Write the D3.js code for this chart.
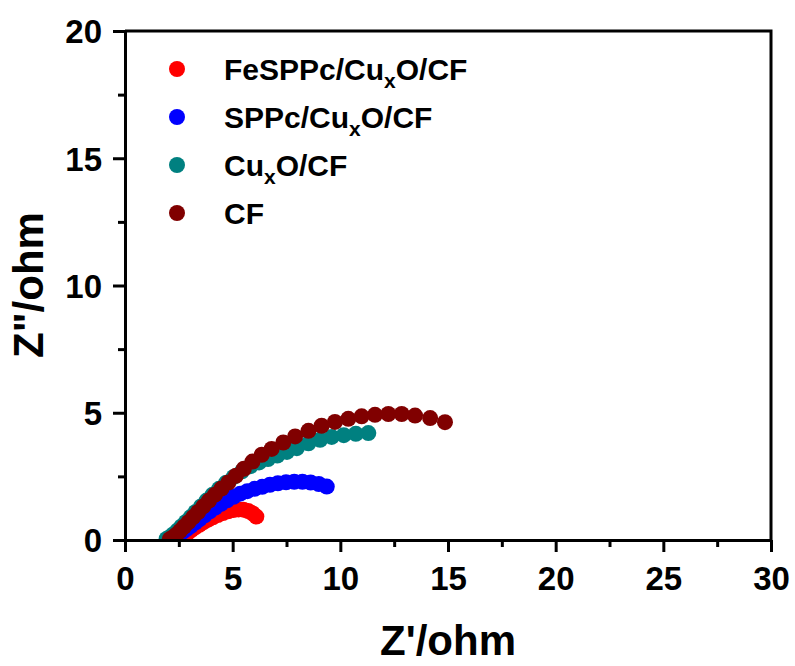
<!DOCTYPE html>
<html>
<head>
<meta charset="utf-8">
<script src="https://cdn.jsdelivr.net/npm/d3@7"></script>
<style>
  body { margin: 0; background: #fff; }
  svg { display: block; font-family: "Liberation Sans", Arial, sans-serif; font-weight: bold; }
</style>
</head>
<body>
<div id="chart"></div>
<script>
// series names (legend order) and colours
const seriesNames = ["FeSPPc/CuxO/CF", "SPPc/CuxO/CF", "CuxO/CF", "CF"];
const seriesColors = ["#ff0000", "#0000ff", "#008080", "#800000"];

// Nyquist data: [Z', Z'']
const fesppc = [
  [2.52,0.05],[2.64,0.11],[2.77,0.19],[2.92,0.29],[3.08,0.39],[3.26,0.5],[3.45,0.6],[3.65,0.7],
  [3.86,0.8],[4.08,0.89],[4.31,0.98],[4.55,1.06],[4.79,1.13],[5.03,1.18],[5.27,1.2],[5.5,1.19],
  [5.72,1.14],[5.92,1.05],[6.1,0.92]
];
const sppc = [
  [2.06,0.02],[2.2,0.06],[2.35,0.13],[2.51,0.22],[2.68,0.32],[2.86,0.43],[3.05,0.55],[3.26,0.68],
  [3.47,0.82],[3.7,0.97],[3.94,1.13],[4.19,1.27],[4.46,1.42],[4.74,1.56],[5.04,1.7],[5.35,1.82],
  [5.68,1.92],[6.02,2.01],[6.37,2.09],[6.73,2.17],[7.1,2.23],[7.48,2.27],[7.86,2.29],[8.24,2.29],
  [8.62,2.26],[9.0,2.2],[9.37,2.1]
];
const cuxo = [
  [1.93,0.04],[2.09,0.12],[2.25,0.23],[2.43,0.37],[2.62,0.53],[2.83,0.71],[3.05,0.9],[3.28,1.1],
  [3.53,1.32],[3.79,1.55],[4.07,1.78],[4.37,2.01],[4.7,2.25],[5.05,2.48],[5.43,2.7],[5.83,2.9],
  [6.23,3.05],[6.64,3.18],[7.07,3.32],[7.52,3.46],[7.98,3.61],[8.52,3.8],[9.06,3.94],[9.6,4.05],
  [10.16,4.12],[10.72,4.17],[11.3,4.2]
];
const cf = [
  [2.08,0.03],[2.22,0.1],[2.38,0.21],[2.55,0.35],[2.74,0.52],[2.95,0.7],[3.17,0.9],[3.4,1.1],
  [3.64,1.32],[3.9,1.55],[4.18,1.78],[4.48,2.02],[4.8,2.26],[5.15,2.52],[5.52,2.8],[5.92,3.08],
  [6.35,3.35],[6.81,3.58],[7.35,3.83],[7.9,4.07],[8.52,4.29],[9.13,4.49],[9.75,4.64],[10.37,4.76],
  [10.99,4.86],[11.61,4.92],[12.23,4.95],[12.85,4.95],[13.47,4.89],[14.17,4.79],[14.86,4.63]
];
const allSeries = [fesppc, sppc, cuxo, cf];

const xTicks = [0, 5, 10, 15, 20, 25, 30];
const yTicks = [0, 5, 10, 15, 20];

const width = 795, height = 666;
const margin = {left: 125, right: 24, top: 31, bottom: 126};

const svg = d3.select("#chart").append("svg")
  .attr("width", width)
  .attr("height", height);

const x = d3.scaleLinear().domain([0, 30]).range([margin.left, width - margin.right]);
const y = d3.scaleLinear().domain([0, 20]).range([height - margin.bottom, margin.top]);

// keep markers inside the frame
svg.append("clipPath").attr("id", "plotClip")
  .append("rect")
  .attr("x", x(0)).attr("y", y(20))
  .attr("width", x(30) - x(0)).attr("height", y(0) - y(20));

const plot = svg.append("g").attr("clip-path", "url(#plotClip)");
allSeries.forEach((data, i) => {
  plot.append("g").selectAll("circle")
    .data(data)
    .enter().append("circle")
    .attr("cx", d => x(d[0]))
    .attr("cy", d => y(d[1]))
    .attr("r", 8)
    .attr("fill", seriesColors[i]);
});

// minor ticks (every 2.5)
const xMinor = d3.range(2.5, 30, 5);
const yMinor = d3.range(2.5, 20, 5);

svg.append("g")
  .attr("transform", `translate(0,${y(0)})`)
  .call(d3.axisBottom(x).tickValues(xMinor).tickSize(7).tickFormat(""))
  .call(g => g.select(".domain").remove());
svg.append("g")
  .attr("transform", `translate(${x(0)},0)`)
  .call(d3.axisLeft(y).tickValues(yMinor).tickSize(7).tickFormat(""))
  .call(g => g.select(".domain").remove());

const xAxis = svg.append("g")
  .attr("transform", `translate(0,${y(0)})`)
  .call(d3.axisBottom(x).tickValues(xTicks).tickSize(12).tickSizeOuter(0).tickPadding(15));
const yAxis = svg.append("g")
  .attr("transform", `translate(${x(0)},0)`)
  .call(d3.axisLeft(y).tickValues(yTicks).tickSize(12).tickSizeOuter(0).tickPadding(11));

svg.selectAll(".tick line, .domain")
  .attr("stroke", "#000")
  .attr("stroke-width", 3);
svg.selectAll(".tick text")
  .attr("fill", "#000")
  .style("font-size", "33px")
  .style("font-family", "'Liberation Sans', Arial, sans-serif")
  .style("font-weight", "bold");
yAxis.selectAll(".tick text").attr("dy", "0.36em");

// top and right frame
svg.append("path")
  .attr("d", `M${x(0)},${y(20)}H${x(30)}V${y(0)}`)
  .attr("fill", "none")
  .attr("stroke", "#000")
  .attr("stroke-width", 3);

// axis titles
svg.append("text")
  .attr("x", (x(0) + x(30)) / 2)
  .attr("y", 655)
  .attr("text-anchor", "middle")
  .style("font-size", "42px")
  .text("Z'/ohm");

svg.append("text")
  .attr("transform", `translate(43,${285}) rotate(-90)`)
  .attr("text-anchor", "middle")
  .style("font-size", "42px")
  .text("Z\"/ohm");

// legend
const legend = svg.append("g");
seriesNames.forEach((name, i) => {
  const ly = 69 + i * 48;
  legend.append("circle")
    .attr("cx", 177).attr("cy", ly).attr("r", 8)
    .attr("fill", seriesColors[i]);
  const t = legend.append("text")
    .attr("x", 224).attr("y", ly + 10.5)
    .style("font-size", "30px");
  // split on the "x" of Cux to subscript it
  const parts = name.split("Cux");
  parts.forEach((p, j) => {
    if (j > 0) {
      t.append("tspan").text("Cu");
      t.append("tspan").attr("dy", 8).style("font-size", "21px").text("x");
      t.append("tspan").attr("dy", -8).text(p);
    } else {
      t.append("tspan").text(p);
    }
  });
});
</script>
</body>
</html>
